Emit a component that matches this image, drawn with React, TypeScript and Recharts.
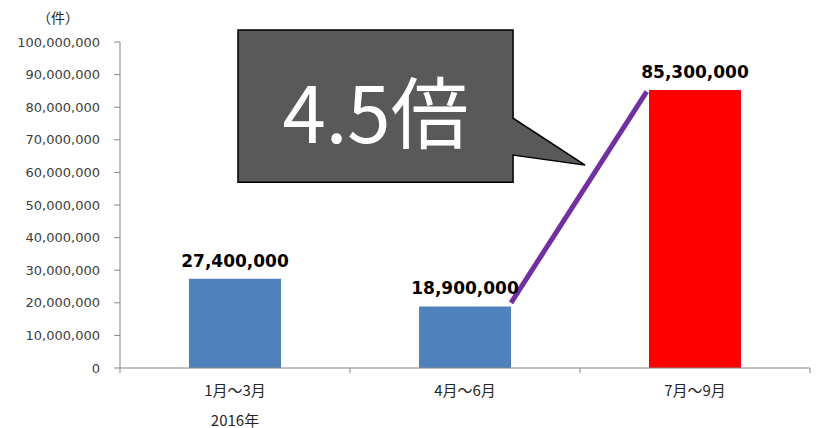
import React from 'react';
import { BarChart, Bar, XAxis, YAxis, Cell, LabelList, ReferenceLine, ReferenceArea, Label } from 'recharts';

const categories = ['1月～3月', '4月～6月', '7月～9月'];
const values = [27400000, 18900000, 85300000];
const barColors = ['#4F81BD', '#4F81BD', '#FF0000'];
const yTicks = [0, 10000000, 20000000, 30000000, 40000000, 50000000, 60000000, 70000000, 80000000, 90000000, 100000000];
const yearLabel = '2016年';
const unitLabel = '（件）';
const calloutText = '4.5倍';
// annotation positions in (category-slot, value) units
const trendLine = [{ x: 1.7, y: 20000000 }, { x: 2.29, y: 84800000 }];
const calloutBox = { x1: 0.513, x2: 1.709, y1: 57000000, y2: 103700000 };
const slotBoundaries = [0, 1, 2, 3];

const data = categories.map((c, i) => ({ name: c, value: values[i], slot: i + 0.5 }));

const fmt = (v: number) => v.toLocaleString('en-US');

const CategoryTick = (props: any) => {
  const { x, y, payload, index } = props;
  return (
    <g>
      <text x={x} y={y + 21} textAnchor="middle" dominantBaseline="central" fontSize={15} fill="#262626" fontFamily="'Noto Sans CJK JP', sans-serif">
        {payload.value}
      </text>
      {index === 0 && (
        <text x={x} y={y + 51} textAnchor="middle" dominantBaseline="central" fontSize={15} fill="#262626" fontFamily="'Noto Sans CJK JP', sans-serif">
          {yearLabel}
        </text>
      )}
    </g>
  );
};

const CalloutShape = (props: any) => {
  const { x, y, width: w, height: h } = props;
  if (x == null || y == null) return null;
  const d = `M${x},${y} H${x + w} V${y + 0.58 * h} L${x + w + 72},${y + 0.888 * h} L${x + w},${y + 0.822 * h} V${y + h} H${x} Z`;
  return (
    <g>
      <path d={d} fill="#595959" stroke="#000" strokeWidth={1.5} />
      <text x={x + w / 2} y={y + 0.52 * h} textAnchor="middle" dominantBaseline="central" fontSize={78} fill="#fff" fontFamily="'Noto Sans CJK JP', sans-serif">
        {calloutText}
      </text>
    </g>
  );
};

export default function App() {
  return (
    <BarChart width={811} height={420} data={data} margin={{ top: 34, right: 9, left: 0, bottom: 0 }} barCategoryGap="30%">
      <XAxis dataKey="name" height={60} axisLine={{ stroke: '#868686' }} tickLine={false} tickSize={0} tickMargin={0} tick={<CategoryTick />} interval={0} />
      <XAxis xAxisId="num" dataKey="slot" type="number" domain={[0, 3]} hide allowDataOverflow />
      <YAxis
        width={112}
        domain={[0, 100000000]}
        ticks={yTicks}
        interval={0}
        tickFormatter={fmt}
        tickSize={6}
        tickMargin={14}
        stroke="#868686"
        tick={{ fill: '#404040', fontSize: 13, fontFamily: "'DejaVu Sans', sans-serif" }}
      >
        <Label
          content={(p: any) => {
            const vb = p.viewBox || {};
            return (
              <text x={(vb.x || 0) + 50} y={(vb.y || 0) - 25} textAnchor="middle" dominantBaseline="central" fontSize={14} fill="#262626" fontFamily="'Noto Sans CJK JP', sans-serif">
                {unitLabel}
              </text>
            );
          }}
        />
      </YAxis>
      <Bar dataKey="value" isAnimationActive={false}>
        {data.map((d, i) => (
          <Cell key={d.name} fill={barColors[i]} />
        ))}
        <LabelList dataKey="value" position="top" offset={12} formatter={(v: any) => fmt(v)} fill="#000" fontSize={17} fontWeight="bold" fontFamily="'DejaVu Sans', sans-serif" />
      </Bar>
      {slotBoundaries.map((s) => (
        <ReferenceLine key={s} xAxisId="num" segment={[{ x: s, y: 0 }, { x: s, y: -1600000 }]} stroke="#868686" strokeWidth={1} ifOverflow="visible" />
      ))}
      <ReferenceArea xAxisId="num" x1={calloutBox.x1} x2={calloutBox.x2} y1={calloutBox.y1} y2={calloutBox.y2} ifOverflow="visible" shape={<CalloutShape />} />
      <ReferenceLine xAxisId="num" segment={trendLine} stroke="#7030A0" strokeWidth={5} ifOverflow="visible" />
    </BarChart>
  );
}
